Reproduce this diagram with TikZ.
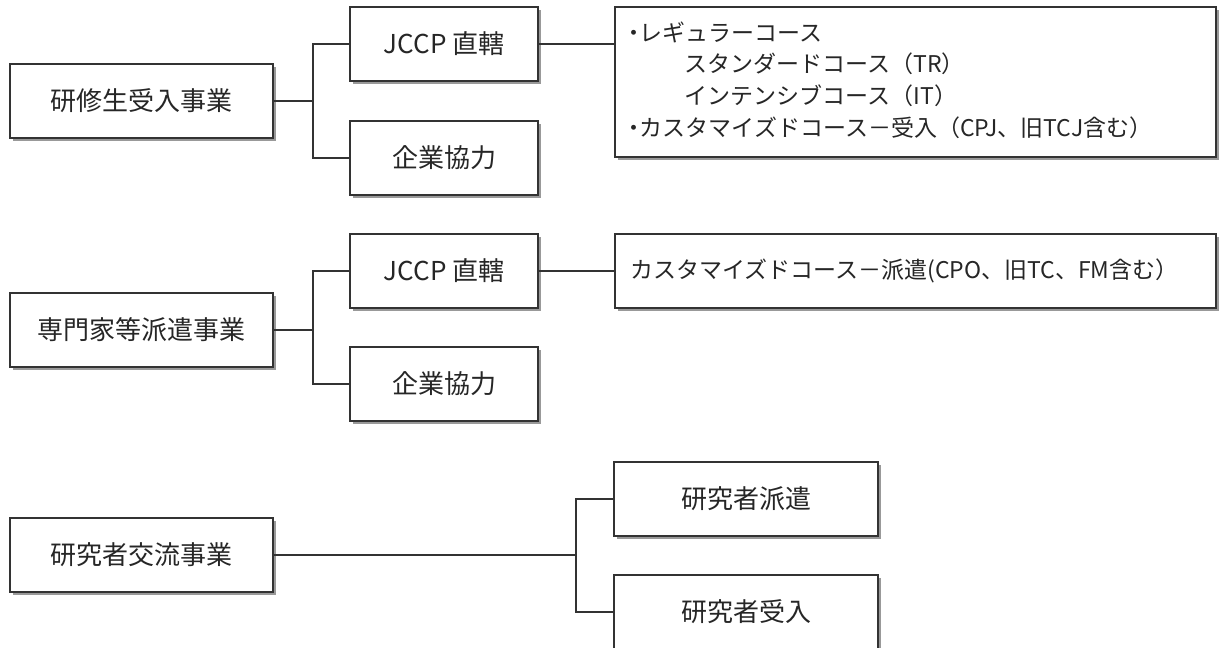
\documentclass[tikz,border=0pt]{standalone}
\usepackage{fontspec}
\setmainfont{Noto Sans CJK JP}
\usetikzlibrary{shadows}
\begin{document}
\begin{tikzpicture}[x=1bp,y=-1bp,
  box/.style={draw=black!80, line width=1.5bp, fill=white, inner sep=0pt,
    text=black!85, font=\fontsize{26bp}{30bp}\selectfont,
    drop shadow={shadow xshift=3bp, shadow yshift=-3bp, fill=black!40, opacity=1}},
  mainbox/.style={box, minimum width=263bp, minimum height=74bp},
  subbox/.style={box, minimum width=188bp, minimum height=74bp},
  detailbox/.style={box, minimum width=601bp, font=\fontsize{23bp}{31.7bp}\selectfont},
  link/.style={draw=black!80, line width=1.5bp},
]
\useasboundingbox (0,0) rectangle (1219,648);
\clip (0,0) rectangle (1219,648);

% group 1
\node[mainbox] (M1) at (141.5,101) {研修生受入事業};
\node[subbox] (J1) at (444,44) {JCCP 直轄};
\node[subbox] (K1) at (444,158) {企業協力};
\node[detailbox, minimum height=150bp] (D1) at (915.5,82) {};
\node[anchor=west, inner sep=0pt, text=black!85, align=left,
  font=\fontsize{23bp}{31.7bp}\selectfont] (D1t) at (627,80)
  {\makebox[0.55em][c]{・}レギュラーコース\\
   \hspace*{2.5em}スタンダードコース（TR）\\
   \hspace*{2.5em}インテンシブコース（IT）\\
   \makebox[0.55em][c]{・}カスタマイズドコース－受入（CPJ、旧TCJ含む）};
\coordinate (b1) at (313,101);
\draw[link] (M1.east) -- (b1);
\draw[link] (J1.west) -| (b1) |- (K1.west);
\draw[link] (J1.east) -- (J1.east -| D1.west);

% group 2
\node[mainbox] (M2) at (141.5,330) {専門家等派遣事業};
\node[subbox] (J2) at (444,271) {JCCP 直轄};
\node[subbox] (K2) at (444,384) {企業協力};
\node[detailbox, minimum height=74bp] (D2) at (915.5,271) {};
\node[anchor=west, inner sep=0pt, text=black!85,
  font=\fontsize{23bp}{31.7bp}\selectfont] (D2t) at (630,271)
  {カスタマイズドコース－派遣(CPO、旧TC、FM含む）};
\coordinate (b2) at (313,330);
\draw[link] (M2.east) -- (b2);
\draw[link] (J2.west) -| (b2) |- (K2.west);
\draw[link] (J2.east) -- (J2.east -| D2.west);

% group 3
\node[mainbox] (M3) at (141.5,555) {研究者交流事業};
\node[box, minimum width=264bp, minimum height=74bp] (R1) at (746,499) {研究者派遣};
\node[box, minimum width=264bp, minimum height=74bp] (R2) at (746,612) {研究者受入};
\coordinate (b3) at (576,555);
\draw[link] (M3.east) -- (b3);
\draw[link] (R1.west) -| (b3) |- (R2.west);
\end{tikzpicture}
\end{document}
